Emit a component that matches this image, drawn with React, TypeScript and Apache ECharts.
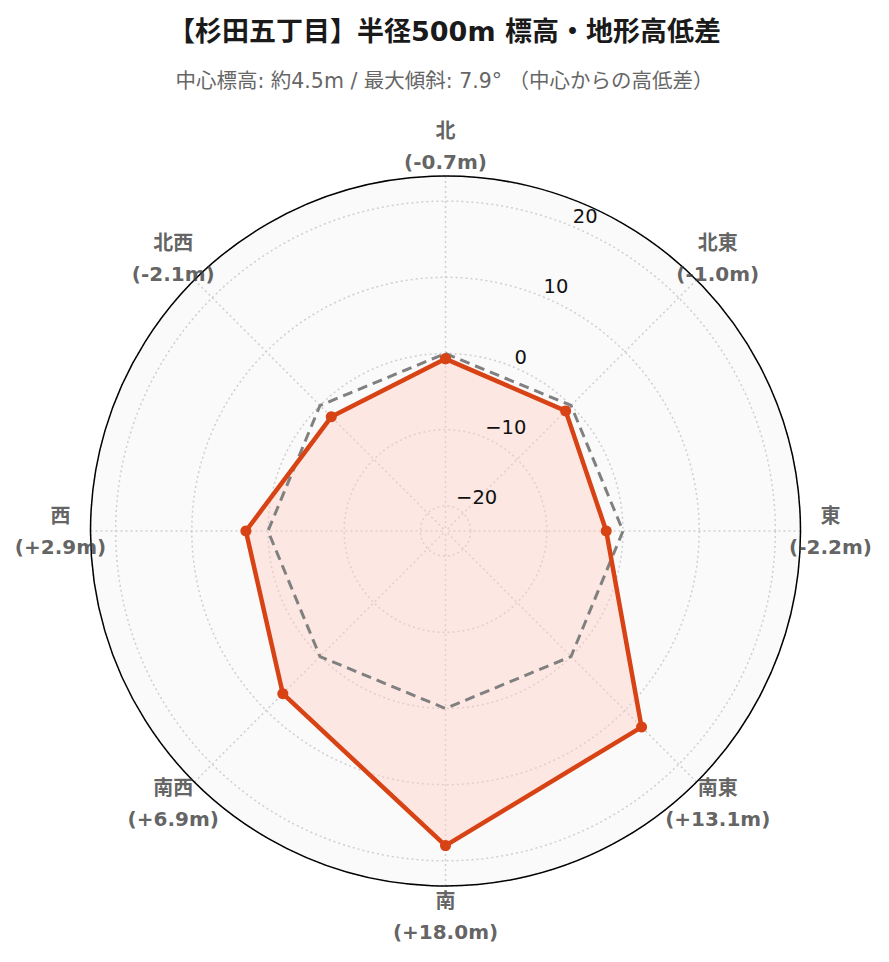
import React, { useEffect, useRef } from "react";
import * as echarts from "echarts";

// ---- data ----
const directions = ["北", "北東", "東", "南東", "南", "南西", "西", "北西"];
const bearings = [0, 45, 90, 135, 180, 225, 270, 315];
const elevationDiff = [-0.7, -1.0, -2.2, 13.1, 18.0, 6.9, 2.9, -2.1];
const baseline = [0, 0, 0, 0, 0, 0, 0, 0];
const radialRange = [-23.3, 23.3];
const titleText = "【杉田五丁目】半径500m 標高・地形高低差";
const subtitleText = "中心標高: 約4.5m / 最大傾斜: 7.9° （中心からの高低差）";

const FONT = '"DejaVu Sans", "Noto Sans CJK JP", sans-serif';

export default function App() {
  const ref = useRef<HTMLDivElement>(null);

  useEffect(() => {
    document.body.style.margin = "0";
    if (!ref.current) return;
    const chart = echarts.init(ref.current, undefined, { renderer: "svg" });

    const [rMin, rMax] = radialRange;
    const center = [445.5, 531];
    const radius = 355;
    const labelOffsetPx = 30;
    const labelR = rMax + ((rMax - rMin) * labelOffsetPx) / radius;

    const closed = (vals: number[]) =>
      vals.map((v, i) => [v, bearings[i]]).concat([[vals[0], bearings[0] + 360]]);

    const fmtDiff = (v: number) => (v >= 0 ? "+" : "-") + Math.abs(v).toFixed(1) + "m";

    const gridLine = { color: "#cfcfcf", type: [2, 3], width: 1.5 };

    const option: any = {
      animation: false,
      backgroundColor: "#ffffff",
      textStyle: { fontFamily: FONT },
      title: [
        {
          text: titleText,
          left: "center",
          top: 13,
          textStyle: { fontSize: 27, fontWeight: "bold", color: "#1a1a1a", fontFamily: FONT },
        },
        {
          text: subtitleText,
          left: "center",
          top: 66,
          textStyle: { fontSize: 20.5, fontWeight: "normal", color: "#666666", fontFamily: FONT },
        },
      ],
      polar: [
        { center, radius },
        { center, radius },
      ],
      angleAxis: [
        {
          polarIndex: 0,
          type: "value",
          min: 0,
          max: 360,
          interval: 45,
          startAngle: 90,
          clockwise: true,
          axisLine: { show: true, lineStyle: { color: "#000000", width: 1.5 } },
          axisTick: { show: false },
          axisLabel: { show: false },
          splitLine: { show: true, lineStyle: gridLine },
          z: 1,
        },
        {
          polarIndex: 1,
          type: "value",
          min: 0,
          max: 360,
          interval: 45,
          startAngle: 67.5,
          clockwise: true,
          axisLine: { show: false },
          axisTick: { show: false },
          axisLabel: { show: false },
          splitLine: { show: false },
          splitArea: { show: true, areaStyle: { color: ["#fafafa"] } },
          z: -1,
        },
      ],
      radiusAxis: [
        {
          polarIndex: 0,
          type: "value",
          min: rMin,
          max: rMax,
          axisLine: { show: false },
          axisTick: { show: false },
          axisLabel: { show: false },
          splitLine: { show: true, lineStyle: gridLine },
          z: 1,
        },
        {
          polarIndex: 1,
          type: "value",
          min: rMin,
          max: rMax,
          axisLine: { show: false },
          axisTick: { show: false },
          splitLine: { show: false },
          axisLabel: {
            show: true,
            showMinLabel: false,
            showMaxLabel: false,
            margin: 0,
            align: "left",
            verticalAlign: "bottom",
            lineHeight: 20,
            padding: [0, 0, 0, 1],
            fontSize: 19.5,
            color: "#111111",
            fontFamily: FONT,
            formatter: (v: number) => (v < 0 ? "\u2212" + Math.abs(v) : String(v)),
          },
          z: 10,
        },
      ],
      series: [
        {
          // filled area of the elevation profile
          type: "line",
          coordinateSystem: "polar",
          polarIndex: 0,
          clip: false,
          data: closed(elevationDiff),
          symbol: "none",
          lineStyle: { width: 0, opacity: 0 },
          areaStyle: { color: "rgba(255, 205, 192, 0.6)", origin: "start" },
          silent: true,
          z: 3,
        },
        {
          type: "line",
          coordinateSystem: "polar",
          polarIndex: 0,
          clip: false,
          data: closed(baseline),
          symbol: "none",
          lineStyle: { color: "#808080", width: 3, type: [10, 6] },
          silent: true,
          z: 4,
        },
        {
          type: "line",
          coordinateSystem: "polar",
          polarIndex: 0,
          clip: false,
          data: closed(elevationDiff),
          symbol: "circle",
          symbolSize: 11,
          showSymbol: true,
          itemStyle: { color: "#d84315" },
          lineStyle: { color: "#d84315", width: 4.5 },
          silent: true,
          z: 5,
        },
        {
          type: "scatter",
          coordinateSystem: "polar",
          polarIndex: 0,
          clip: false,
          silent: true,
          symbolSize: 0,
          data: bearings.map((b) => [labelR, b]),
          label: {
            show: true,
            position: "inside",
            align: "center",
            verticalAlign: "middle",
            lineHeight: 31,
            fontSize: 20,
            fontWeight: "bold",
            color: "#3a3a3a",
            fontFamily: FONT,
            formatter: (p: any) =>
              directions[p.dataIndex] + "\n(" + fmtDiff(elevationDiff[p.dataIndex]) + ")",
          },
          z: 6,
        },
      ],
    };

    chart.setOption(option);
    return () => chart.dispose();
  }, []);

  return <div ref={ref} style={{ width: 889, height: 962 }} />;
}
